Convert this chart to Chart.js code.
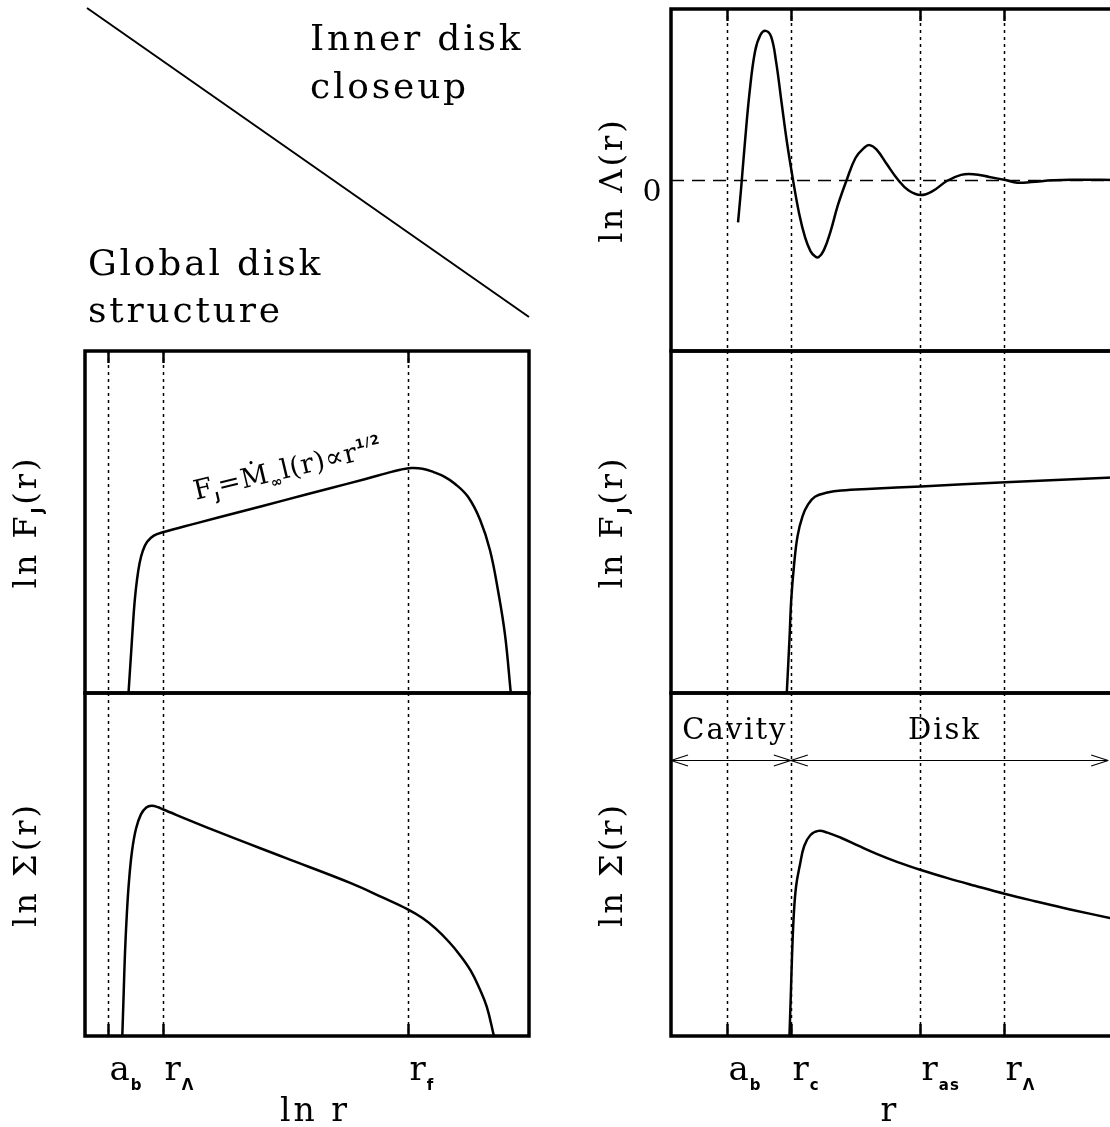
<!DOCTYPE html>
<html>
<head>
<meta charset="utf-8">
<script src="https://cdn.jsdelivr.net/npm/chart.js@4"></script>
<style>
html, body { margin: 0; padding: 0; background: #fff; width: 1110px; height: 1127px; overflow: hidden; position: relative; }
canvas { position: absolute; left: 0; top: 0; }
</style>
</head>
<body>
<canvas id="globalFlux" width="1130" height="1127"></canvas>
<canvas id="globalSigma" width="1130" height="1127"></canvas>
<canvas id="innerLambda" width="1130" height="1127"></canvas>
<canvas id="innerFlux" width="1130" height="1127"></canvas>
<canvas id="innerSigma" width="1130" height="1127"></canvas>
<script>
// ---- global disk (x = ln r, arbitrary units 0..100) ----
var gMarks = [5.2, 17.6, 72.7];
var gMarkMain = ["a", "r", "r"];
var gMarkSub = ["b", "\u039b", "f"];

var gFluxX = [9.8, 10.1, 10.4, 10.8, 11.2, 11.7, 12.3, 13.0, 14.0, 15.5, 17.5, 25, 35, 45, 55, 63, 68, 71, 73.5, 76, 78.5, 81, 83.3, 86.3, 89.0, 91.2, 93.0, 94.6, 95.9];
var gFluxY = [0, 6, 12, 20, 27, 33, 38, 41.5, 44.2, 46.0, 47.0, 49.6, 53.0, 56.4, 59.8, 62.5, 64.3, 65.3, 65.8, 65.6, 64.6, 63.2, 61.2, 57.3, 50.6, 41.8, 30.1, 17.0, 0];

var gSigmaX = [8.4, 8.7, 9.0, 9.4, 9.9, 10.6, 11.5, 12.6, 13.8, 15.0, 16.5, 17.5, 30, 45, 60, 67, 72.6, 76, 79, 82, 84.5, 86.9, 88.8, 90.5, 92.1];
var gSigmaY = [0, 12, 24, 35, 45, 54, 60.5, 64.6, 66.6, 67.1, 66.7, 66.1, 59.5, 52.0, 44.5, 40.4, 37.0, 34.4, 31.3, 27.4, 23.5, 19.0, 14.0, 8.5, 0];

// ---- inner disk closeup (x = r, arbitrary units 0..100) ----
var iMarks = [12.5, 26.8, 55.7, 74.5];
var iMarkMain = ["a", "r", "r", "r"];
var iMarkSub = ["b", "c", "as", "\u039b"];

var iLambdaX = [15.0, 15.7, 16.5, 17.6, 18.8, 20.0, 21.2, 22.4, 23.5, 24.7, 25.9, 27.3, 28.7, 30.0, 31.2, 32.2, 33.0, 34.2, 35.7, 37.3, 39.3, 41.3, 43.2, 44.4, 46.0, 48.3, 50.7, 53.1, 55.9, 58.6, 61.7, 64.9, 67.6, 71.2, 74.8, 77.5, 80.6, 85.4, 89.3, 100];
var iLambdaY = [-12.4, -2.2, 10.4, 25.9, 37.6, 42.4, 43.6, 41.9, 34.7, 23.0, 11.4, 0, -10.0, -16.8, -20.8, -22.3, -22.6, -20.5, -15.0, -7.5, 0, 6.5, 9.4, 10.2, 8.9, 4.6, 0.2, -3.0, -4.4, -3.2, -0.3, 1.5, 1.7, 0.9, 0, -0.8, -0.6, -0.1, 0.1, 0];

var iFluxX = [25.9, 26.5, 26.9, 27.5, 28.3, 29.4, 30.6, 32.2, 35.0, 38.1, 45, 55.9, 74.8, 100];
var iFluxY = [0, 15.6, 27.3, 37.0, 45.8, 51.6, 55.0, 57.4, 58.6, 59.2, 59.7, 60.4, 61.6, 63.1];

var iSigmaX = [26.5, 26.8, 27.1, 27.5, 28.0, 28.8, 29.8, 31.2, 33.0, 35.0, 38.0, 42.0, 46.0, 50.7, 55.9, 61.7, 68.0, 74.8, 81.4, 89.3, 100];
var iSigmaY = [0, 11.7, 24.3, 36.0, 43.8, 49.6, 55.4, 58.6, 59.8, 59.3, 57.8, 55.4, 53.1, 50.7, 48.4, 46.1, 43.8, 41.4, 39.3, 36.9, 33.9];

// Cavity / Disk arrows (inner Sigma panel units)
var zoneEdges = [0, 26.8, 97.8];
var zoneNames = ["Cavity", "Disk"];
var zoneLevel = 80.5;

var W = 1130, H = 1127;
var SERIF = '"DejaVu Serif", serif';
var SANS = '"DejaVu Sans", sans-serif';

function rich(ctx, parts, x, y, align, angle, spacing) {
  ctx.save();
  ctx.translate(x, y);
  ctx.rotate(angle || 0);
  ctx.letterSpacing = (spacing || 0) + "px";
  ctx.textAlign = "left";
  ctx.textBaseline = "alphabetic";
  ctx.fillStyle = "#000";
  var w = 0;
  parts.forEach(function (p) { ctx.font = p[1]; w += ctx.measureText(p[0]).width; });
  var cx = align === "center" ? -w / 2 : 0;
  parts.forEach(function (p) {
    ctx.font = p[1];
    ctx.fillText(p[0], cx, p[2] || 0);
    cx += ctx.measureText(p[0]).width;
  });
  ctx.restore();
}

function seg(ctx, x1, y1, x2, y2) {
  ctx.beginPath(); ctx.moveTo(x1, y1); ctx.lineTo(x2, y2); ctx.stroke();
}

var panelConf = {};

var panelPlugin = {
  id: "panel",
  beforeDatasetsDraw: function (chart) {
    var o = panelConf[chart.canvas.id];
    var ctx = chart.ctx, a = chart.chartArea, xs = chart.scales.x, ys = chart.scales.y;
    ctx.save();
    ctx.strokeStyle = "#000";
    ctx.lineWidth = 1.5;
    ctx.setLineDash([3, 4]);
    o.marks.forEach(function (v) {
      var px = Math.round(xs.getPixelForValue(v)) + 0.5;
      seg(ctx, px, a.top, px, a.bottom);
    });
    if (o.zeroLine) {
      var py = Math.round(ys.getPixelForValue(0)) + 0.5;
      ctx.setLineDash([13, 8]);
      ctx.lineWidth = 1.4;
      seg(ctx, a.left, py, a.right, py);
    }
    ctx.restore();
  },
  afterDraw: function (chart) {
    var o = panelConf[chart.canvas.id];
    var ctx = chart.ctx, a = chart.chartArea, xs = chart.scales.x, ys = chart.scales.y;
    ctx.save();
    ctx.strokeStyle = "#000";
    ctx.lineWidth = 3.5;
    ctx.strokeRect(a.left, a.top, a.right - a.left, a.bottom - a.top);
    ctx.lineWidth = 2.5;
    o.marks.forEach(function (v, i) {
      var px = Math.round(xs.getPixelForValue(v)) + 0.5;
      if (o.tickTop) seg(ctx, px, a.top, px, a.top + 12);
      if (o.tickBottom) {
        seg(ctx, px, a.bottom - 12, px, a.bottom);
        rich(ctx, [[o.main[i], "34px " + SERIF, 0], [o.sub[i], "bold 15px " + SANS, 10]], px + 1, a.bottom + 44, "left", 0, 1);
      }
    });
    // y title
    rich(ctx, o.yTitle, a.left - 49, (a.top + a.bottom) / 2, "center", -Math.PI / 2, 3);
    if (o.xTitle) rich(ctx, [[o.xTitle, "33px " + SERIF, 0]], o.xTitleX, a.bottom + 85, "center", 0, 3);
    if (o.zeroLine) rich(ctx, [["0", "30px " + SERIF, 0]], a.left - 19, ys.getPixelForValue(0) + 21, "center", 0, 0);
    if (o.annot) {
      rich(ctx, o.annot, xs.getPixelForValue(25), ys.getPixelForValue(56.5), "left", -13.5 * Math.PI / 180, 0.8);
    }
    if (o.titles) {
      ctx.lineWidth = 2;
      seg(ctx, 87, 8, a.right, a.top - 34);
      rich(ctx, [["Inner disk", "36px " + SERIF, 0]], 310, 50, "left", 0, 2.8);
      rich(ctx, [["closeup", "36px " + SERIF, 0]], 310, 98, "left", 0, 2.8);
      rich(ctx, [["Global disk", "36px " + SERIF, 0]], 88, 275, "left", 0, 2.8);
      rich(ctx, [["structure", "36px " + SERIF, 0]], 88, 322, "left", 0, 2.8);
    }
    if (o.zones) {
      var ly = Math.round(ys.getPixelForValue(zoneLevel)) + 0.5;
      var ex = zoneEdges.map(function (v) { return xs.getPixelForValue(v); });
      ctx.lineWidth = 1.2;
      seg(ctx, ex[0], ly, ex[2], ly);
      var head = function (x, dir) {
        seg(ctx, x, ly, x + dir * 17, ly - 5.5);
        seg(ctx, x, ly, x + dir * 17, ly + 5.5);
      };
      head(ex[0], 1); head(ex[1], -1); head(ex[1], 1); head(ex[2], -1);
      rich(ctx, [[zoneNames[0], "29px " + SERIF, 0]], (ex[0] + ex[1]) / 2 + 4, ly - 22, "center", 0, 2);
      rich(ctx, [[zoneNames[1], "29px " + SERIF, 0]], (ex[1] + ex[2]) / 2 - 5, ly - 22, "center", 0, 2);
    }
    ctx.restore();
  }
};

function makePanel(id, rect, xs, ys, yRange, conf) {
  panelConf[id] = conf;
  var pts = xs.map(function (x, i) { return { x: x, y: ys[i] }; });
  return new Chart(document.getElementById(id), {
    type: "line",
    data: {
      datasets: [{
        data: pts,
        borderColor: "#000",
        borderWidth: 2.5,
        pointRadius: 0,
        fill: false,
        tension: 0.4
      }]
    },
    options: {
      responsive: false,
      animation: false,
      devicePixelRatio: 1,
      layout: { padding: { left: rect[0], top: rect[1], right: W - rect[2], bottom: H - rect[3] } },
      scales: {
        x: { type: "linear", display: false, min: 0, max: 100 },
        y: { type: "linear", display: false, min: yRange[0], max: yRange[1] }
      },
      plugins: { legend: { display: false }, tooltip: { enabled: false } }
    },
    plugins: [panelPlugin]
  });
}

var fjTitle = [["ln F", "32px " + SERIF, 0], ["J", "bold 15px " + SANS, 7], ["(r)", "32px " + SERIF, 0]];
var sigTitle = [["ln \u03a3(r)", "32px " + SERIF, 0]];
var lamTitle = [["ln \u039b(r)", "32px " + SERIF, 0]];
var annot = [
  ["F", "27px " + SERIF, 0], ["J", "bold 12px " + SANS, 6], ["=\u1e40", "27px " + SERIF, 0],
  ["\u221e", "bold 14px " + SANS, 6], ["l(r)\u221dr", "27px " + SERIF, 0], ["1/2", "bold 13px " + SANS, -12]
];

makePanel("globalFlux", [85, 351, 529, 693], gFluxX, gFluxY, [0, 100], {
  marks: gMarks, tickTop: true, yTitle: fjTitle, annot: annot, titles: true
});
makePanel("globalSigma", [85, 693, 529, 1036], gSigmaX, gSigmaY, [0, 100], {
  marks: gMarks, tickBottom: true, main: gMarkMain, sub: gMarkSub, yTitle: sigTitle, xTitle: "ln r", xTitleX: 315
});
makePanel("innerLambda", [671, 9, 1118, 351], iLambdaX, iLambdaY, [-50, 50], {
  marks: iMarks, tickTop: true, yTitle: lamTitle, zeroLine: true
});
makePanel("innerFlux", [671, 351, 1118, 693], iFluxX, iFluxY, [0, 100], {
  marks: iMarks, yTitle: fjTitle
});
makePanel("innerSigma", [671, 693, 1118, 1036], iSigmaX, iSigmaY, [0, 100], {
  marks: iMarks, tickBottom: true, main: iMarkMain, sub: iMarkSub, yTitle: sigTitle, xTitle: "r", xTitleX: 890, zones: true
});
</script>
</body>
</html>
